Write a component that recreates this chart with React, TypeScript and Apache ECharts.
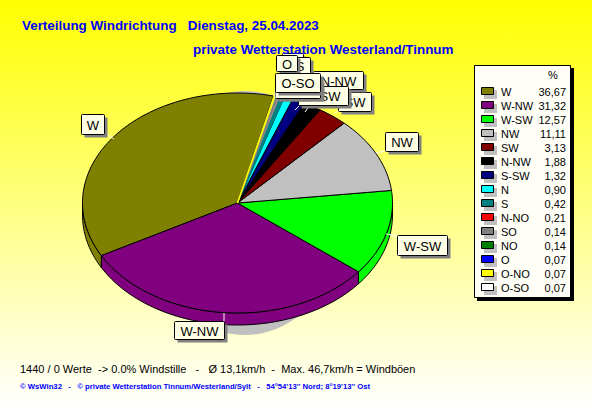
import React, { useEffect, useRef } from "react";
import * as echarts from "echarts";

const directions = ["W", "W-NW", "W-SW", "NW", "SW", "N-NW", "S-SW", "N", "S", "N-NO", "SO", "NO", "O", "O-NO", "O-SO"];
const shares = [36.67, 31.32, 12.57, 11.11, 3.13, 1.88, 1.32, 0.9, 0.42, 0.21, 0.14, 0.14, 0.07, 0.07, 0.07];
const shareLabels = ["36,67", "31,32", "12,57", "11,11", "3,13", "1,88", "1,32", "0,90", "0,42", "0,21", "0,14", "0,14", "0,07", "0,07", "0,07"];
const sliceColors = ["#808000", "#800080", "#00FF00", "#C0C0C0", "#800000", "#000000", "#000080", "#00FFFF", "#008080", "#FF0000", "#808080", "#008000", "#0000FF", "#FFFF00", "#FFFFFF"];

const titleLine1 = "Verteilung Windrichtung   Dienstag, 25.04.2023";
const titleLine2 = "private Wetterstation Westerland/Tinnum";
const statsLine = "1440 / 0 Werte  -> 0.0% Windstille   -   Ø 13,1km/h  -  Max. 46,7km/h = Windböen";
const creditLine = "© WsWin32   -   © private Wetterstation Tinnum/Westerland/Sylt   -   54°54'13'' Nord; 8°19'13'' Ost";

// x, y, width, height of each callout box, then the leader line
const calloutBoxes: Record<string, number[]> = {
  "W": [81, 114, 23, 20, 114, 139, 108, 135],
  "W-NW": [174, 321, 50, 18, 224, 313, 224, 321],
  "W-SW": [397, 235, 50, 20, 386, 234, 397, 236],
  "NW": [385, 132, 33, 19, 376, 153, 385, 151],
  "SW": [338, 92, 33, 19, 335, 113, 342, 108],
  "N-NW": [313, 71, 50, 18, 305, 112, 320, 90],
  "S-SW": [298, 86, 50, 19, 295, 110, 300, 105],
  "N": [282, 53, 21, 18, 282, 100, 285, 70],
  "S": [289, 57, 21, 16, 280, 100, 290, 70],
  "N-NO": [276, 79, 45, 19, 278, 98, 280, 96],
  "SO": [280, 75, 36, 17, 278, 98, 285, 90],
  "NO": [278, 75, 38, 17, 276, 98, 282, 90],
  "O": [276, 55, 21, 16, 276, 98, 280, 70],
  "O-NO": [275, 79, 45, 19, 275, 98, 276, 96],
  "O-SO": [275, 73, 45, 19, 275, 98, 275, 92],
};

const CX = 237.5, CY = 203, RX = 155, RY = 110, DEPTH = 12;
const START_DEG = 76.6;

// hairline slices: the width of their outline and how high they paint
const hairlines: Record<string, number[]> = {
  "S": [1, 3],
  "SO": [1.2, 4],
  "O-NO": [1.5, 5],
  "N-NO": [0, 0],
  "NO": [0, 0],
  "O": [0, 0],
  "O-SO": [0, 0],
};

const total = shares.reduce((a, b) => a + b, 0);
const ranges = (() => {
  let a = START_DEG;
  return shares.map((s) => {
    const from = a;
    a += (s / total) * 360;
    return [from, a];
  });
})();

const rimPoints = (from: number, to: number, dy = 0) => {
  const n = Math.max(1, Math.ceil((to - from) / 1.5));
  const pts: number[][] = [];
  for (let i = 0; i <= n; i++) {
    const t = ((from + ((to - from) * i) / n) * Math.PI) / 180;
    pts.push([CX + RX * Math.cos(t), CY - RY * Math.sin(t) + dy]);
  }
  return pts;
};

const sideItem = (params: any) => {
  const i = params.dataIndex;
  const [a, b] = ranges[i];
  // the part of the slice's rim that faces the viewer: 180..360 and 540..720
  const parts: number[][] = [];
  for (const off of [0, 360]) {
    const from = Math.max(a, 180 + off);
    const to = Math.min(b, 360 + off);
    if (to > from) parts.push([from, to]);
  }
  return {
    type: "group",
    children: parts.map(([from, to]) => ({
      type: "polygon",
      shape: { points: [...rimPoints(from, to), ...rimPoints(from, to, DEPTH).reverse()] },
      style: { fill: sliceColors[i], stroke: "#000", lineWidth: 1 },
    })),
  };
};

const topItem = (params: any) => {
  const i = params.dataIndex;
  const [a, b] = ranges[i];
  const hair = hairlines[directions[i]];
  return {
    type: "polygon",
    z2: hair ? hair[1] : 1,
    shape: { points: [[CX, CY], ...rimPoints(a, b)] },
    style: hair
      ? { fill: sliceColors[i], stroke: sliceColors[i], lineWidth: hair[0], opacity: hair[0] ? 1 : 0.25 }
      : { fill: sliceColors[i], stroke: "#000", lineWidth: 1 },
  };
};

const box = (x: number, y: number, w: number, h: number, label: string, z: number) => [
  { type: "rect", z, silent: true, shape: { x: x + 3.5, y: y + 3.5, width: w, height: h }, style: { fill: "#808080" } },
  { type: "rect", z, silent: true, shape: { x: x + 0.5, y: y + 0.5, width: w, height: h, r: 1 }, style: { fill: "#FFFFE6", stroke: "#000", lineWidth: 1 } },
  { type: "text", z, silent: true, x: x + w / 2 + 0.5, y: y + h / 2 + 1, style: { text: label, fill: "#000", font: "13px 'Liberation Sans'", align: "center", verticalAlign: "middle" } },
];

const txt = (x: number, y: number, text: string, font: string, fill: string, align = "left") => ({
  type: "text", z: 60, silent: true, x, y, style: { text, font, fill, align, verticalAlign: "middle" },
});

const buildOption = () => {
  const graphic: any[] = [
    { type: "ellipse", z: 0, silent: true, shape: { cx: 245, cy: 213, rx: 100, ry: 122 }, style: { fill: "#C0C0C0" } },
    txt(22, 25, titleLine1, "bold 13.4px 'Liberation Sans'", "#0000FF"),
    txt(193, 49, titleLine2, "bold 13.4px 'Liberation Sans'", "#0000FF"),
    txt(20, 369, statsLine, "11px 'Liberation Sans'", "#000"),
    txt(20, 386, creditLine, "bold 7.7px 'Liberation Sans'", "#0000FF"),
  ];
  directions.forEach((d, i) => {
    const [x, y, w, h, lx1, ly1, lx2, ly2] = calloutBoxes[d];
    const z = 20 + i;
    graphic.push({ type: "line", z, silent: true, shape: { x1: lx1, y1: ly1, x2: lx2, y2: ly2 }, style: { stroke: "#FFF", lineWidth: 1 } });
    graphic.push(...box(x, y, w, h, d, z));
  });
  graphic.push(
    { type: "rect", z: 50, silent: true, shape: { x: 477, y: 68, width: 97, height: 233 }, style: { fill: "#000" } },
    { type: "rect", z: 50, silent: true, shape: { x: 474.5, y: 65.5, width: 96, height: 232 }, style: { fill: "#FFFFF8", stroke: "#000", lineWidth: 1 } },
    txt(553, 75, "%", "11px 'Liberation Sans'", "#000", "center"),
  );
  directions.forEach((d, i) => {
    const y = 91 + i * 14;
    graphic.push(
      { type: "rect", z: 60, silent: true, shape: { x: 484, y: y - 1, width: 13, height: 9 }, style: { fill: "#C0C0C0" } },
      { type: "rect", z: 60, silent: true, shape: { x: 481.5, y: y - 3.5, width: 12, height: 7 }, style: { fill: sliceColors[i], stroke: "#000", lineWidth: 1 } },
      txt(501, y + 0.5, d, "11px 'Liberation Sans'", "#000"),
      txt(566, y + 0.5, shareLabels[i], "11px 'Liberation Sans'", "#000", "right"),
    );
  });
  return {
    animation: false,
    backgroundColor: new echarts.graphic.LinearGradient(0, 0, 0, 1, [
      { offset: 0, color: "#FFFF00" },
      { offset: 1, color: "#FFFFFF" },
    ]),
    graphic,
    series: [
      { type: "custom", coordinateSystem: "none", silent: true, z: 2, data: shares, renderItem: sideItem },
      { type: "custom", coordinateSystem: "none", silent: true, z: 3, data: shares, renderItem: topItem },
    ],
  };
};

export default function App() {
  const ref = useRef<HTMLDivElement>(null);
  useEffect(() => {
    document.body.style.margin = "0";
    const chart = echarts.init(ref.current!, null, { renderer: "svg" });
    chart.setOption(buildOption() as any);
    return () => chart.dispose();
  }, []);
  return <div ref={ref} style={{ width: 592, height: 407 }} />;
}
